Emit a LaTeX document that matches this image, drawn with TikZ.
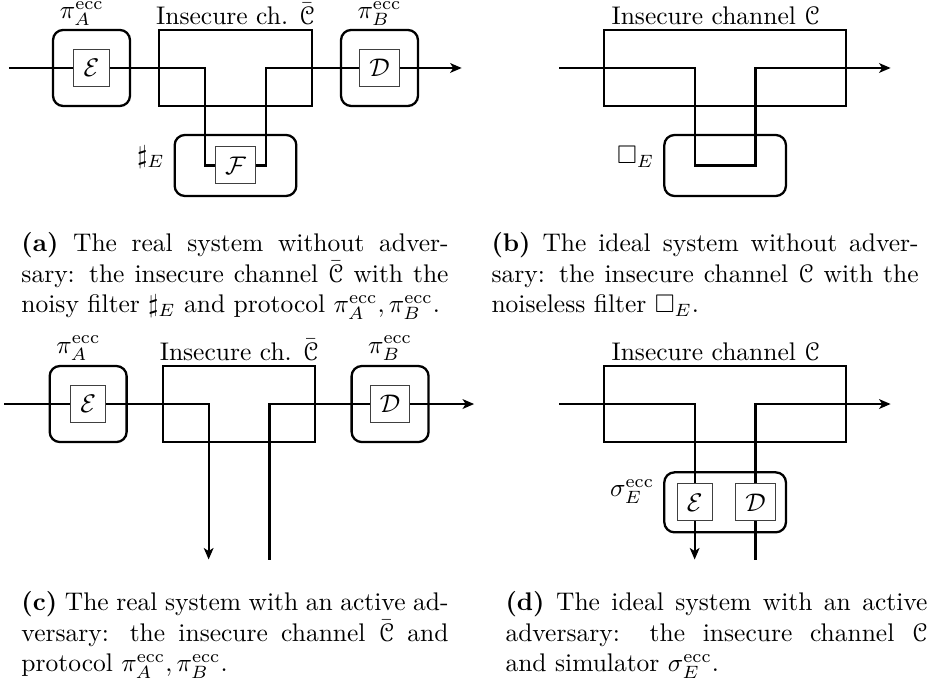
\documentclass[tikz,border=0pt]{standalone}
\usepackage{amsmath,amssymb}
\usepackage[mathscr]{eucal}
\usepackage{tikz}
\usetikzlibrary{arrows.meta,positioning,calc}

\begin{document}
\begin{tikzpicture}[
  >={Stealth[length=4.5pt,width=3.8pt,inset=1.2pt]},
  wire/.style={line width=0.9pt},
  party/.style={draw, line width=0.9pt, rounded corners=4pt,
    minimum width=1.061cm, minimum height=1.048cm},
  chan/.style={draw, line width=0.9pt, minimum height=1.048cm},
  filt/.style={draw, line width=0.9pt, rounded corners=4pt,
    minimum width=1.677cm, minimum height=0.841cm},
  algo/.style={draw=black!75, thin, inner sep=3.8pt, minimum height=0.51cm},
  capt/.style={text width=167.5pt, align=justify, inner sep=0pt, anchor=north west}]
  \useasboundingbox (0,0) rectangle (12.943,-9.580);

  % (a) real system, no adversary
  \begin{scope}[shift={(3.246,-0.937)}]
    \node[chan, minimum width=2.10cm] (chA) at (0,0) {};
    \node[party] (piAa) at (-1.985,0) {};
    \node[party] (piBa) at (1.985,0) {};
    \node[algo] (encA) at (piAa) {$\mathcal{E}$};
    \node[algo] (decA) at (piBa) {$\mathcal{D}$};
    \node[filt] (noisyA) at (0,-1.344) {};
    \node[algo] (fltA) at (noisyA) {$\mathcal{F}$};
    % Labels
    \node[anchor=base] (lchA) at (0,0.606) {Insecure ch. $\bar{\mathscr{C}}$};
    \node[anchor=base] (lpiAa) at (-2.119,0.685) {$\pi_A^{\mathrm{ecc}}$};
    \node[anchor=base] (lpiBa) at (1.985,0.685) {$\pi_B^{\mathrm{ecc}}$};
    \node[anchor=east] (lnoisyA) at ([yshift=-0.317cm]noisyA.north west) {$\sharp_E$};
    % Wires
    \coordinate (inA) at (-3.122,0);
    \coordinate (outA) at (3.118,0);
    \coordinate (tlA) at (-0.425,0);
    \coordinate (trA) at (0.425,0);
    \draw[wire] (inA) -- (encA);
    \draw[wire] (encA) -- (tlA) |- (fltA);
    \draw[wire] (fltA) -| (trA) -- (decA);
    \draw[wire,->] (decA) -- (outA);
  \end{scope}

  % (b) ideal system, no adversary
  \begin{scope}[shift={(9.995,-0.937)}]
    \node[chan, minimum width=3.332cm] (chB) at (0,0) {};
    \node[filt] (cleanB) at (0,-1.344) {};
    % Labels
    \node[anchor=base] (lchB) at (-0.13,0.606) {Insecure channel $\mathscr{C}$};
    \node[anchor=east] (lcleanB) at ([yshift=-0.317cm]cleanB.north west) {$\Box_E$};
    % Wires
    \coordinate (inB) at (-2.288,0);
    \coordinate (outB) at (2.281,0);
    \coordinate (blB) at (-0.42,-1.344);
    \coordinate (brB) at (0.42,-1.344);
    \draw[wire,->] (inB) -| (blB) -- (brB) |- (outB);
  \end{scope}

  % (c) real system, active adversary
  \begin{scope}[shift={(3.296,-5.569)}]
    \node[chan, minimum width=2.091cm] (chC) at (0,0) {};
    \node[party] (piAc) at (-2.081,0) {};
    \node[party] (piBc) at (2.081,0) {};
    \node[algo] (encC) at (piAc) {$\mathcal{E}$};
    \node[algo] (decC) at (piBc) {$\mathcal{D}$};
    % Labels
    \node[anchor=base] (lchC) at (0,0.606) {Insecure ch. $\bar{\mathscr{C}}$};
    \node[anchor=base] (lpiAc) at (-2.215,0.703) {$\pi_A^{\mathrm{ecc}}$};
    \node[anchor=base] (lpiBc) at (2.081,0.703) {$\pi_B^{\mathrm{ecc}}$};
    % Wires
    \coordinate (inC) at (-3.239,0);
    \coordinate (outC) at (3.239,0);
    \coordinate (dlC) at (-0.42,-2.143);
    \coordinate (drC) at (0.42,-2.143);
    \draw[wire] (inC) -- (encC);
    \draw[wire,->] (encC) -| (dlC);
    \draw[wire] (drC) |- (decC);
    \draw[wire,->] (decC) -- (outC);
  \end{scope}

  % (d) ideal system, active adversary
  \begin{scope}[shift={(9.995,-5.569)}]
    \node[chan, minimum width=3.332cm] (chD) at (0,0) {};
    \node[filt, minimum height=0.827cm] (simD) at (0,-1.355) {};
    \node[algo] (encD) at (-0.42,-1.355) {$\mathcal{E}$};
    \node[algo] (decD) at (0.42,-1.355) {$\mathcal{D}$};
    % Labels
    \node[anchor=base] (lchD) at (-0.13,0.606) {Insecure channel $\mathscr{C}$};
    \node[anchor=east] (lsimD) at ([yshift=-0.285cm]simD.north west) {$\sigma_E^{\mathrm{ecc}}$};
    % Wires
    \coordinate (inD) at (-2.288,0);
    \coordinate (outD) at (2.281,0);
    \coordinate (dlD) at (-0.42,-2.143);
    \coordinate (drD) at (0.42,-2.143);
    \draw[wire] (inD) -| (encD);
    \draw[wire,->] (encD) -- (dlD);
    \draw[wire] (drD) -- (decD);
    \draw[wire,->] (decD) |- (outD);
  \end{scope}

  % Captions
  \node[capt] (captA) at (0.289,-3.198) {\textbf{(a)} The real system without adversary:
    the insecure channel $\bar{\mathscr{C}}$ with the noisy filter $\sharp_E$ and
    protocol $\pi_A^{\mathrm{ecc}}, \pi_B^{\mathrm{ecc}}$.};
  \node[capt] (captB) at (6.768,-3.198) {\textbf{(b)} The ideal system without adversary:
    the insecure channel $\mathscr{C}$ with the noiseless filter $\Box_E$.};
  \node[capt] (captC) at (0.289,-8.146) {\textbf{(c)} The real system with an active
    adversary: the insecure channel $\bar{\mathscr{C}}$ and protocol
    $\pi_A^{\mathrm{ecc}}, \pi_B^{\mathrm{ecc}}$.};
  \node[capt, text width=165.5pt] (captD) at (6.961,-8.146) {\textbf{(d)} The ideal system
    with an active\linebreak adversary: the insecure channel $\mathscr{C}$\linebreak
    and simulator $\sigma_E^{\mathrm{ecc}}$.};
\end{tikzpicture}
\end{document}
